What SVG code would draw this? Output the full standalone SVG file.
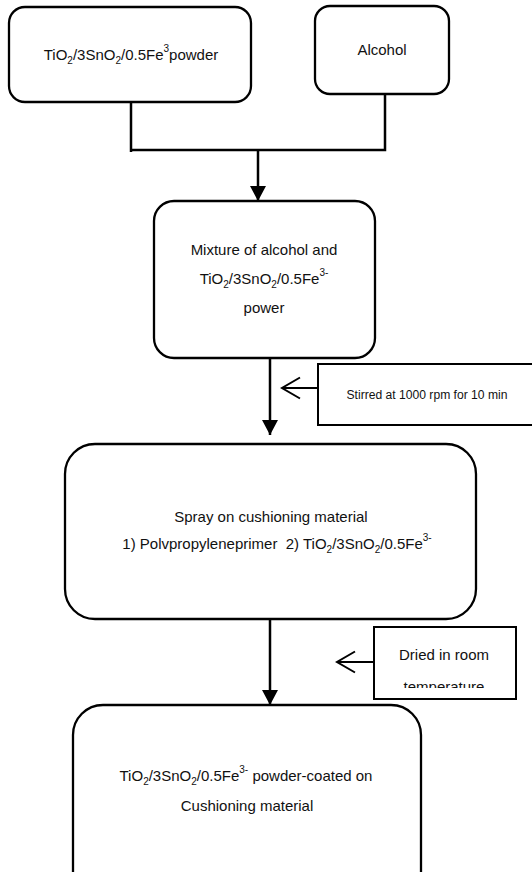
<svg xmlns="http://www.w3.org/2000/svg" width="532" height="872" viewBox="0 0 532 872">
<style>
  .box { fill: #fff; stroke: #000; stroke-width: 2.3; }
  .note { fill: #fff; stroke: #000; stroke-width: 2; }
  .t { font-family: "Liberation Sans", Arial, sans-serif; font-size: 15px; fill: #111; text-anchor: middle; }
  .sm { font-size: 10px; }
  .ln { fill: none; stroke: #000; stroke-width: 2.5; }
  .arr { marker-end: url(#tri); }
  .open { marker-end: url(#chev); stroke-width: 2; }
</style>
<defs>
  <marker id="tri" markerUnits="userSpaceOnUse" markerWidth="16" markerHeight="18" refX="15" refY="8" orient="auto" viewBox="0 0 16 16">
    <path d="M0,0 L15,8 L0,16 Z" fill="#000"/>
  </marker>
  <marker id="chev" markerUnits="userSpaceOnUse" markerWidth="22" markerHeight="26" refX="19" refY="11" orient="auto" viewBox="0 0 22 22">
    <path d="M1,0.5 L19,11 L1,21.5" fill="none" stroke="#000" stroke-width="2"/>
  </marker>
  <clipPath id="driedClip"><rect x="374" y="627" width="142" height="61"/></clipPath>
</defs>

<g id="connectors">
  <path class="ln" d="M131,102 L131,152"/>
  <path class="ln" d="M131,150 L385,150 L385,94"/>
  <path class="ln arr" d="M258,150 L258,201"/>
  <path class="ln arr" d="M270,358 L270,435"/>
  <path class="ln open" d="M318,388 L282,388"/>
  <path class="ln arr" d="M270,619 L270,705"/>
  <path class="ln open" d="M374,662 L337,662"/>
</g>

<g id="node-powder">
  <rect class="box" x="9" y="7" width="242" height="95" rx="16"/>
  <text class="t" x="131" y="60">TiO<tspan class="sm" dy="4">2</tspan><tspan dy="-4">/3SnO</tspan><tspan class="sm" dy="4">2</tspan><tspan dy="-4">/0.5Fe</tspan><tspan class="sm" dy="-8">3</tspan><tspan dy="8">powder</tspan></text>
</g>

<g id="node-alcohol">
  <rect class="box" x="315" y="6" width="134" height="88" rx="15"/>
  <text class="t" x="382" y="55">Alcohol</text>
</g>

<g id="node-mixture">
  <rect class="box" x="154" y="201" width="221" height="157" rx="20"/>
  <text class="t" x="264" y="255">Mixture of alcohol and</text>
  <text class="t" x="264" y="284">TiO<tspan class="sm" dy="4">2</tspan><tspan dy="-4">/3SnO</tspan><tspan class="sm" dy="4">2</tspan><tspan dy="-4">/0.5Fe</tspan><tspan class="sm" dy="-8">3-</tspan></text>
  <text class="t" x="264" y="313">power</text>
</g>

<g id="node-stirred">
  <rect class="note" x="318" y="364" width="240" height="61"/>
  <text class="t" x="427" y="399" textLength="161" lengthAdjust="spacingAndGlyphs" style="font-size:12.5px">Stirred at 1000 rpm for 10 min</text>
</g>

<g id="node-spray">
  <rect class="box" x="65" y="444" width="411" height="175" rx="30"/>
  <text class="t" x="271" y="522">Spray on cushioning material</text>
  <text class="t" x="277" y="549">1) Polvpropyleneprimer &#160;2) TiO<tspan class="sm" dy="4">2</tspan><tspan dy="-4">/3SnO</tspan><tspan class="sm" dy="4">2</tspan><tspan dy="-4">/0.5Fe</tspan><tspan class="sm" dy="-8">3-</tspan></text>
</g>

<g id="node-dried">
  <rect class="note" x="374" y="627" width="142" height="72"/>
  <g clip-path="url(#driedClip)">
    <text class="t" x="444" y="660">Dried in room</text>
    <text class="t" x="444" y="692">temperature</text>
  </g>
</g>

<g id="node-coated">
  <rect class="box" x="73" y="705" width="348" height="220" rx="30"/>
  <text class="t" x="246" y="781">TiO<tspan class="sm" dy="4">2</tspan><tspan dy="-4">/3SnO</tspan><tspan class="sm" dy="4">2</tspan><tspan dy="-4">/0.5Fe</tspan><tspan class="sm" dy="-8">3-</tspan><tspan dy="8"> powder-coated on</tspan></text>
  <text class="t" x="247" y="811">Cushioning material</text>
</g>
</svg>
